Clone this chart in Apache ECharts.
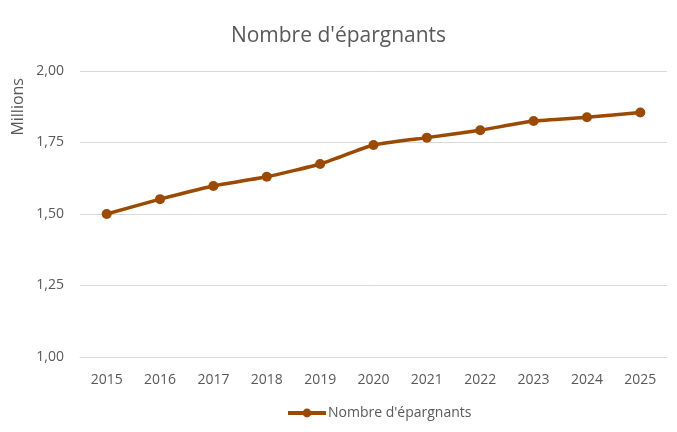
<!DOCTYPE html>
<html>
<head>
<meta charset="utf-8">
<script src="https://cdn.jsdelivr.net/npm/echarts@6/dist/echarts.min.js"></script>
<style>
  html, body { margin: 0; padding: 0; background: #fff; }
  #chart { width: 677px; height: 432px; }
</style>
</head>
<body>
<div id="chart"></div>
<script>
const years = ['2015', '2016', '2017', '2018', '2019', '2020', '2021', '2022', '2023', '2024', '2025'];
const savers = [1.50, 1.552, 1.598, 1.630, 1.675, 1.741, 1.767, 1.793, 1.825, 1.838, 1.855];
const seriesName = "Nombre d'épargnants";

const txt = '#595959';
const font = '"Open Sans", "Noto Sans", sans-serif';

const myChart = echarts.init(document.getElementById('chart'));

const option = {
  backgroundColor: '#fff',
  textStyle: { fontFamily: font },
  title: {
    text: seriesName,
    left: 'center',
    top: 21,
    textStyle: { fontFamily: font, fontSize: 21, fontWeight: 'normal', color: txt }
  },
  graphic: [{
    type: 'text',
    left: 10,
    top: 78,
    rotation: Math.PI / 2,
    style: { text: 'Millions', fill: txt, font: '16px ' + font }
  }],
  legend: {
    bottom: 7,
    left: 281,
    itemWidth: 38,
    itemHeight: 11,
    itemGap: 4,
    lineStyle: { width: 4 },
    textStyle: { fontFamily: font, fontSize: 14, color: txt, padding: [0, 0, 0, -3] },
    data: [seriesName]
  },
  grid: { left: 80, right: 10, top: 71, bottom: 75 },
  xAxis: {
    type: 'category',
    data: years,
    boundaryGap: true,
    axisLine: { lineStyle: { color: '#d9d9d9' } },
    axisTick: { show: false },
    axisLabel: { color: txt, fontSize: 14, margin: 16, fontFamily: font }
  },
  yAxis: {
    type: 'value',
    min: 1,
    max: 2,
    interval: 0.25,
    axisLine: { show: false },
    axisTick: { show: false },
    splitLine: { lineStyle: { color: '#d9d9d9', width: 1 } },
    axisLabel: {
      color: txt,
      fontSize: 14,
      margin: 16,
      fontFamily: font,
      formatter: v => v.toFixed(2).replace('.', ',')
    }
  },
  series: [{
    name: seriesName,
    type: 'line',
    data: savers,
    smooth: 0.15,
    symbol: 'circle',
    symbolSize: 10,
    itemStyle: { color: '#9C4A02' },
    lineStyle: { color: '#9C4A02', width: 3.5 },
    animation: false
  }]
};

myChart.setOption(option);
</script>
</body>
</html>
